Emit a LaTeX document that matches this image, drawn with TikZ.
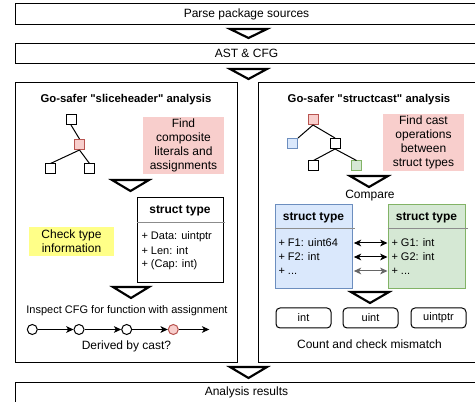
\documentclass[tikz,border=0pt]{standalone}
\usepackage{fontspec}
\setmainfont{Liberation Sans}
\usetikzlibrary{arrows.meta}

\definecolor{pinkfill}{RGB}{248,206,204}
\definecolor{pinkline}{RGB}{184,84,80}
\definecolor{bluefill}{RGB}{218,232,252}
\definecolor{blueline}{RGB}{108,142,191}
\definecolor{greenfill}{RGB}{213,232,212}
\definecolor{greenline}{RGB}{130,179,102}
\definecolor{notefill}{RGB}{255,255,136}

\tikzset{every picture/.style={line width=0.75pt}}
\tikzset{
	txt/.style={font=\fontsize{9}{10.5}\selectfont, align=center, inner sep=0pt},
	smalltxt/.style={font=\fontsize{8.25}{10.5}\selectfont, align=center, inner sep=0pt},
	boldtxt/.style={font=\bfseries\fontsize{9}{10.5}\selectfont, inner sep=0pt},
	titletxt/.style={font=\bfseries\fontsize{8.5}{10.5}\selectfont, inner sep=0pt},
	stagebox/.style={draw, txt, minimum width=347.25pt, minimum height=15.5pt},
	panelbox/.style={draw, minimum width=167pt, minimum height=210pt},
	notebox/.style={txt, minimum width=60.75pt, minimum height=42.75pt},
	structbox/.style={draw, minimum width=57.75pt, minimum height=63pt},
	typebox/.style={draw, smalltxt, rounded corners=3pt, minimum width=41.25pt, minimum height=15pt},
	field/.style={smalltxt, anchor=west},
	headline/.style={draw=black!45, line width=1.2pt},
	sq/.style={draw, fill=white, minimum size=7.5pt, inner sep=0pt},
	dot/.style={draw, fill=white, circle, minimum size=7.5pt, inner sep=0pt},
	chevron/.style={line width=1.6pt, line join=miter},
	flow/.style={-{Stealth[length=5.5pt,width=5pt,inset=1.5pt]}},
	match/.style={{Stealth[length=5.5pt,width=5pt,inset=1.5pt]}-{Stealth[length=5.5pt,width=5pt,inset=1.5pt]}}
}

\begin{document}
\begin{tikzpicture}[x=0.75pt,y=0.75pt,yscale=-1,xscale=1]
	\useasboundingbox (0,0) rectangle (475,402);
	\clip (0,0) rectangle (475,402);

	%Shape: Rectangle
	\node[stagebox] (parse) at (246.5,14) {Parse package sources};
	%Shape: Triangle
	\draw[chevron] (230,29) -- (267,29) -- (248.5,38) -- cycle;
	%Shape: Rectangle
	\node[stagebox] (ast) at (246.5,53.5) {AST \& CFG};
	%Shape: Triangle
	\draw[chevron] (230,69) -- (267,69) -- (248.5,79) -- cycle;

	%Shape: Rectangle
	\node[panelbox] (slicepanel) at (126.5,223) {};
	%Shape: Rectangle
	\node[panelbox, minimum width=166.5pt] (castpanel) at (369,223) {};

	% Text Node
	\node[titletxt] (slicetitle) at (126,100) {Go-safer \textquotedbl sliceheader\textquotedbl{} analysis};
	% Text Node
	\node[titletxt] (casttitle) at (369,100) {Go-safer \textquotedbl structcast\textquotedbl{} analysis};

	%Shape: Tree (sliceheader)
	\node[sq] (lroot) at (71,119.5) {};
	\node[sq, draw=pinkline, fill=pinkfill] (lmid) at (79.5,144.5) {};
	\node[sq] (lleft) at (50.5,169) {};
	\node[sq] (lright) at (89.5,169) {};
	\draw (lroot.south) -- (lmid.north);
	\draw (lmid.south) -- (lleft.north);
	\draw (lmid.south) -- (lright.north);

	%Shape: Rectangle
	\node[notebox, fill=pinkfill] (findlit) at (183.5,145.5) {Find\\composite\\literals and\\assignments};
	%Shape: Triangle
	\draw[chevron] (112,180) -- (149,180) -- (130.5,191) -- cycle;

	%Shape: Rectangle
	\node[notebox, fill=notefill, minimum width=63.75pt, minimum height=21.75pt] (checktype) at (71.5,241.5) {Check type\\information};

	%Shape: Class (slice header)
	\node[structbox, minimum width=64.5pt, minimum height=63.75pt] (slicestruct) at (180,240.5) {};
	\draw[headline] ([yshift=18.75pt]slicestruct.north west) -- ([yshift=18.75pt,xshift=1pt]slicestruct.north east);
	\node[boldtxt] (slicehd) at (180,211) {struct type};
	\node[field] (sdata) at (141,237) {+ Data: uintptr};
	\node[field] (slen) at (141,251) {+ Len: int};
	\node[field] (scap) at (141,265) {+ (Cap: int)};

	%Shape: Triangle
	\draw[chevron] (113,287) -- (149,287) -- (131,298) -- cycle;

	% Text Node
	\node[smalltxt] (inspect) at (127,311) {Inspect CFG for function with assignment};

	%Shape: CFG chain
	\node[dot] (c1) at (32.3,329.5) {};
	\node[dot] (c2) at (79,329.5) {};
	\node[dot] (c3) at (126.7,329.5) {};
	\node[dot, draw=pinkline, fill=pinkfill] (c4) at (173.3,329.5) {};
	\coordinate (cend) at (209.3,329.5);
	\draw[flow] (c1) -- (c2);
	\draw[flow] (c2) -- (c3);
	\draw[flow] (c3) -- (c4);
	\draw[flow] (c4) -- (cend);

	% Text Node
	\node[txt] (derived) at (126.5,346) {Derived by cast?};

	%Shape: Tree (structcast)
	\node[sq, draw=pinkline, fill=pinkfill] (rroot) at (313,119.5) {};
	\node[sq, draw=blueline, fill=bluefill] (rblue) at (292.5,143.5) {};
	\node[sq] (rmid) at (335,143.5) {};
	\node[sq] (rleaf) at (313.5,166) {};
	\node[sq, draw=greenline, fill=greenfill] (rgreen) at (356.5,166) {};
	\draw (rroot.south) -- (rblue.north east);
	\draw (rroot.south) -- (rmid.north);
	\draw (rmid.south) -- (rleaf.north);
	\draw (rmid.south) -- (rgreen.north);

	%Shape: Rectangle
	\node[notebox, fill=pinkfill] (findcast) at (423.5,142.5) {Find cast\\operations\\between\\struct types};
	%Shape: Triangle
	\draw[chevron] (350,176) -- (388,176) -- (369,187) -- cycle;

	% Text Node
	\node[txt] (compare) at (370,196) {Compare};

	%Shape: Class (source type)
	\node[structbox, draw=blueline, fill=bluefill] (fromstruct) at (313.5,247) {};
	\draw[headline] ([yshift=18pt]fromstruct.north west) -- ([yshift=18pt,xshift=2pt]fromstruct.north east);
	\node[boldtxt] (fromhd) at (313.5,217.5) {struct type};
	\node[field] (f1) at (278,243) {+ F1: uint64};
	\node[field] (f2) at (278,257) {+ F2: int};
	\node[field] (f3) at (278,271) {+ ...};

	%Shape: Class (target type)
	\node[structbox, draw=greenline, fill=greenfill] (tostruct) at (426.5,247) {};
	\draw[headline] ([yshift=18pt]tostruct.north west) -- ([yshift=18pt,xshift=2pt]tostruct.north east);
	\node[boldtxt] (tohd) at (426.5,217.5) {struct type};
	\node[field] (g1) at (391,243) {+ G1: int};
	\node[field] (g2) at (391,257) {+ G2: int};
	\node[field] (g3) at (391,271) {+ ...};

	%Straight Lines
	\draw[match] ([xshift=1pt]fromstruct.east |- f1) -- (tostruct.west |- g1);
	\draw[match] ([xshift=1pt]fromstruct.east |- f2) -- (tostruct.west |- g2);
	\draw[match, draw=black!60] ([xshift=1pt]fromstruct.east |- f3) -- (tostruct.west |- g3);

	%Shape: Triangle
	\draw[chevron] (351,292) -- (389,292) -- (370,303) -- cycle;

	%Shape: Rounded Rectangle
	\node[typebox] (tint) at (303.5,318) {int};
	\node[typebox] (tuint) at (370.5,318) {uint};
	\node[typebox] (tuintptr) at (438.5,318) {uintptr};

	% Text Node
	\node[txt] (count) at (369.5,344) {Count and check mismatch};

	%Shape: Triangle
	\draw[chevron] (230,367) -- (267,367) -- (248.5,378) -- cycle;
	%Shape: Rectangle
	\node[stagebox] (results) at (246.5,392.5) {Analysis results};

\end{tikzpicture}
\end{document}
